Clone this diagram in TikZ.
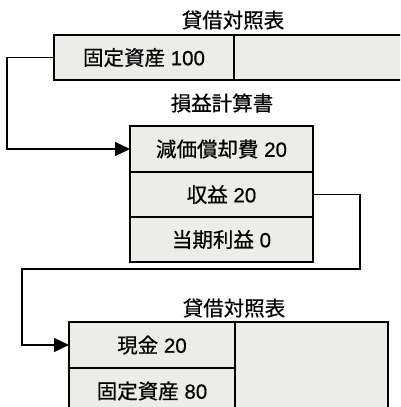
\documentclass[tikz,border=0pt]{standalone}
\usepackage{fontspec}
\setmainfont{Noto Sans CJK JP}
\newfontfamily\cellfont{Noto Sans CJK JP}[FakeBold=0.6]
\newfontfamily\latfont{Liberation Sans}[FakeBold=0.5]
\usetikzlibrary{arrows.meta}
\definecolor{cellfill}{RGB}{236,236,233}
\begin{document}
\begin{tikzpicture}[x=1pt,y=-1pt,
  cell/.style={draw=black,line width=1.3pt,fill=cellfill,inner sep=0pt,outer sep=0pt,font=\cellfont\fontsize{20.5}{24}\selectfont,text=black},
  ttl/.style={font=\cellfont\fontsize{20.5}{24}\selectfont,text=black,inner sep=0pt},
  conn/.style={draw=black,line width=1.3pt,-{Triangle[length=15pt,width=14pt]}}]
\useasboundingbox (0,0) rectangle (400,407);
\begin{scope}
\clip (0,0) rectangle (400,407);
% top balance sheet
\node[ttl] (t1) at (233,20) {貸借対照表};
\node[cell,minimum width=180pt,minimum height=45pt] (a1) at (144,57.5) {固定資産{\latfont\ 100}};
\node[cell,minimum width=172pt,minimum height=45pt] (a2) at (320,57.5) {};
% income statement
\node[ttl] (t2) at (222,103) {損益計算書};
\node[cell,minimum width=183pt,minimum height=46pt] (b1) at (221.5,149) {減価償却費{\latfont\ 20}};
\node[cell,minimum width=183pt,minimum height=45pt] (b2) at (221.5,194.5) {収益{\latfont\ 20}};
\node[cell,minimum width=183pt,minimum height=45pt] (b3) at (221.5,239.5) {当期利益{\latfont\ 0}};
% bottom balance sheet
\node[ttl] (t3) at (234,308) {貸借対照表};
\node[cell,minimum width=153pt,minimum height=92pt] (c3) at (311.5,368) {};
\node[cell,minimum width=166pt,minimum height=46pt] (c1) at (152,345) {現金{\latfont\ 20}};
\node[cell,minimum width=166pt,minimum height=46pt] (c2) at (152,391) {固定資産{\latfont\ 80}};
% connectors
\coordinate (k0) at (7,57.5);
\coordinate (k1) at (360,269);
\coordinate (k2) at (22,269);
\draw[conn] (a1.west) -- (k0) |- (b1.west);
\draw[conn] (b2.east) -| (k1) -- (k2) |- (c1.west);
\end{scope}
\end{tikzpicture}
\end{document}
